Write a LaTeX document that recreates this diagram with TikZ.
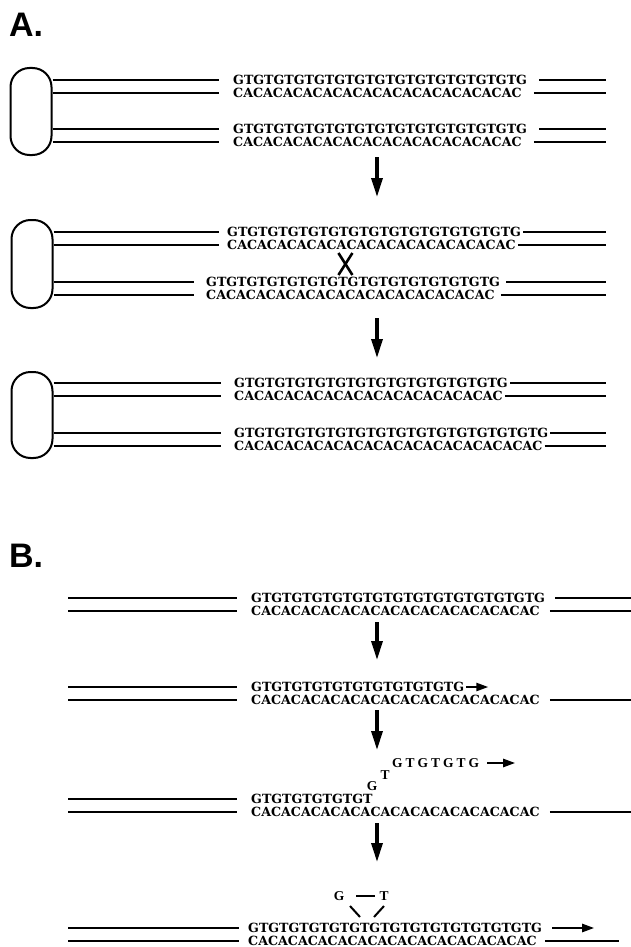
\documentclass[tikz,border=0pt]{standalone}
\usepackage{fontspec}
\setmainfont{Liberation Serif}
\newfontfamily\panelfont{Liberation Sans}
\newfontfamily\seqfont{DejaVu Serif}
\usetikzlibrary{arrows.meta,calc}
\ExplSyntaxOn
\cs_new:Npn \seqrep #1#2 { \prg_replicate:nn {#1} {#2} }
\ExplSyntaxOff
\tikzset{
  seq/.style={font=\seqfont\bfseries\fontsize{12.65}{15}\selectfont, inner sep=0pt, anchor=west},
  base/.style={font=\bfseries\fontsize{13.5}{15}\selectfont, inner sep=0pt},
  spaced/.style={font=\bfseries\fontsize{13.5}{15}\selectfont\addfontfeature{LetterSpace=22}, inner sep=0pt, anchor=west},
  strand/.style={line width=2pt},
  chromo/.style={draw, line width=2pt, rounded corners=19pt, minimum width=41pt, inner sep=0pt},
  stepdown/.style={line width=3.4pt, -{Triangle[length=19pt,width=11pt]}},
  extend/.style={line width=2.3pt, -{Triangle[length=12pt,width=8pt]}},
  crossing/.style={line width=2.6pt},
  panel/.style={font=\panelfont\bfseries\fontsize{34}{34}\selectfont, inner sep=0pt, anchor=west},
}
\begin{document}
\begin{tikzpicture}[x=1pt,y=-1pt]
\useasboundingbox (0,0) rectangle (631,947);
\fill[white] (0,0) rectangle (631,947);
\coordinate (rA) at (606,0);
\coordinate (rB) at (631,0);
\coordinate (rB4) at (619,0);
\coordinate (lB) at (68,0);

% ---------------- Panel A ----------------
\node[panel] (labA) at (9,25) {A.};

% paired chromatids before exchange
\node[chromo, minimum height=87pt] (ov1) at (31,111.5) {};
\node[seq] (a1g1) at (233,80)  {\seqrep{14}{GT}G};
\node[seq] (a1c1) at (233,93)  {\seqrep{14}{CA}C};
\node[seq] (a1g2) at (233,129) {\seqrep{14}{GT}G};
\node[seq] (a1c2) at (233,142) {\seqrep{14}{CA}C};
\foreach \s in {a1g1,a1c1,a1g2,a1c2}{
  \draw[strand] (ov1.east |- \s.west) -- ([xshift=-14]\s.west);
  \draw[strand] ([xshift=12]\s.east) -- (\s.east -| rA);
}
\coordinate (d1a) at (377,157);
\coordinate (d1b) at (377,197);
\draw[stepdown] (d1a) -- (d1b);

% misaligned pairing with exchange
\node[chromo, minimum height=88pt] (ov2) at (32,264) {};
\node[seq] (a2g1) at (227,232) {\seqrep{14}{GT}G};
\node[seq] (a2c1) at (227,245) {\seqrep{14}{CA}C};
\node[seq] (a2g2) at (206,282) {\seqrep{14}{GT}G};
\node[seq] (a2c2) at (206,295) {\seqrep{14}{CA}C};
\foreach \s in {a2g1,a2c1}{
  \draw[strand] (ov2.east |- \s.west) -- ([xshift=-8]\s.west);
  \draw[strand] ([xshift=2]\s.east) -- (\s.east -| rA);
}
\foreach \s in {a2g2,a2c2}{
  \draw[strand] (ov2.east |- \s.west) -- ([xshift=-12]\s.west);
  \draw[strand] ([xshift=6]\s.east) -- (\s.east -| rA);
}
\coordinate (xm) at ($(a2c1.west)!0.41!(a2c1.east)$);
\coordinate (xo) at (xm |- ov2.center);
\draw[crossing] ([shift={(-7,-11)}]xo) -- ([shift={(7,11)}]xo);
\draw[crossing] ([shift={(7,-11)}]xo) -- ([shift={(-7,11)}]xo);
\coordinate (d2a) at (377,318);
\coordinate (d2b) at (377,358);
\draw[stepdown] (d2a) -- (d2b);

% products: contraction and expansion
\node[chromo, minimum height=86pt] (ov3) at (32,415) {};
\node[seq] (a3g1) at (234,383) {\seqrep{13}{GT}G};
\node[seq] (a3c1) at (234,396) {\seqrep{13}{CA}C};
\node[seq] (a3g2) at (234,433) {\seqrep{15}{GT}G};
\node[seq] (a3c2) at (234,446) {\seqrep{15}{CA}C};
\foreach \s in {a3g1,a3c1,a3g2,a3c2}{
  \draw[strand] (ov3.east |- \s.west) -- ([xshift=-13]\s.west);
  \draw[strand] ([xshift=2]\s.east) -- (\s.east -| rA);
}

% ---------------- Panel B ----------------
\node[panel] (labB) at (9,556) {B.};

% duplex
\node[seq] (b1g) at (251,598) {\seqrep{14}{GT}G};
\node[seq] (b1c) at (251,611) {\seqrep{14}{CA}C};
\foreach \s in {b1g,b1c}{
  \draw[strand] (\s.west -| lB) -- ([xshift=-14]\s.west);
  \draw[strand] ([xshift=10]\s.east) -- (\s.east -| rB);
}
\coordinate (d3a) at (377,622);
\coordinate (d3b) at (377,660);
\draw[stepdown] (d3a) -- (d3b);

% replication in progress
\node[seq] (b2g) at (251,687) {\seqrep{10}{GT}G};
\node[seq] (b2c) at (251,700) {\seqrep{14}{CA}C};
\foreach \s in {b2g,b2c}{
  \draw[strand] (\s.west -| lB) -- ([xshift=-14]\s.west);
}
\draw[strand] ([xshift=10]b2c.east) -- (b2c.east -| rB);
\draw[extend] ([xshift=2]b2g.east) -- ([xshift=24]b2g.east);
\coordinate (d4a) at (377,710);
\coordinate (d4b) at (377,750);
\draw[stepdown] (d4a) -- (d4b);

% slipped nascent strand
\node[seq] (b3g) at (251,799) {\seqrep{6}{GT}};
\node[seq] (b3c) at (251,812) {\seqrep{14}{CA}C};
\foreach \s in {b3g,b3c}{
  \draw[strand] (\s.west -| lB) -- ([xshift=-14]\s.west);
}
\draw[strand] ([xshift=10]b3c.east) -- (b3c.east -| rB);
\node[base] (b3G) at (372,786.5) {G};
\node[base] (b3T) at (385,775) {T};
\node[spaced] (b3out) at (392,763) {GTGTGTG};
\draw[extend] ([xshift=8]b3out.east) -- ([xshift=36]b3out.east);
\coordinate (d5a) at (377,823);
\coordinate (d5b) at (377,862);
\draw[stepdown] (d5a) -- (d5b);

% looped-out repeat after realignment
\node[base] (b4G) at (339,896) {G};
\node[base] (b4T) at (384,896) {T};
\draw[strand] ([xshift=12]b4G.east) -- ([xshift=-4]b4T.west);
\draw[strand] (350,906) -- (360,917);
\draw[strand] (384,906) -- (374,917);
\node[seq] (b4g) at (248,928) {\seqrep{14}{GT}G};
\node[seq] (b4c) at (248,941) {\seqrep{14}{CA}C};
\foreach \s in {b4g,b4c}{
  \draw[strand] (\s.west -| lB) -- ([xshift=-9]\s.west);
}
\draw[extend] ([xshift=10]b4g.east) -- ([xshift=52]b4g.east);
\draw[strand] ([xshift=8]b4c.east) -- (b4c.east -| rB4);
\end{tikzpicture}
\end{document}
